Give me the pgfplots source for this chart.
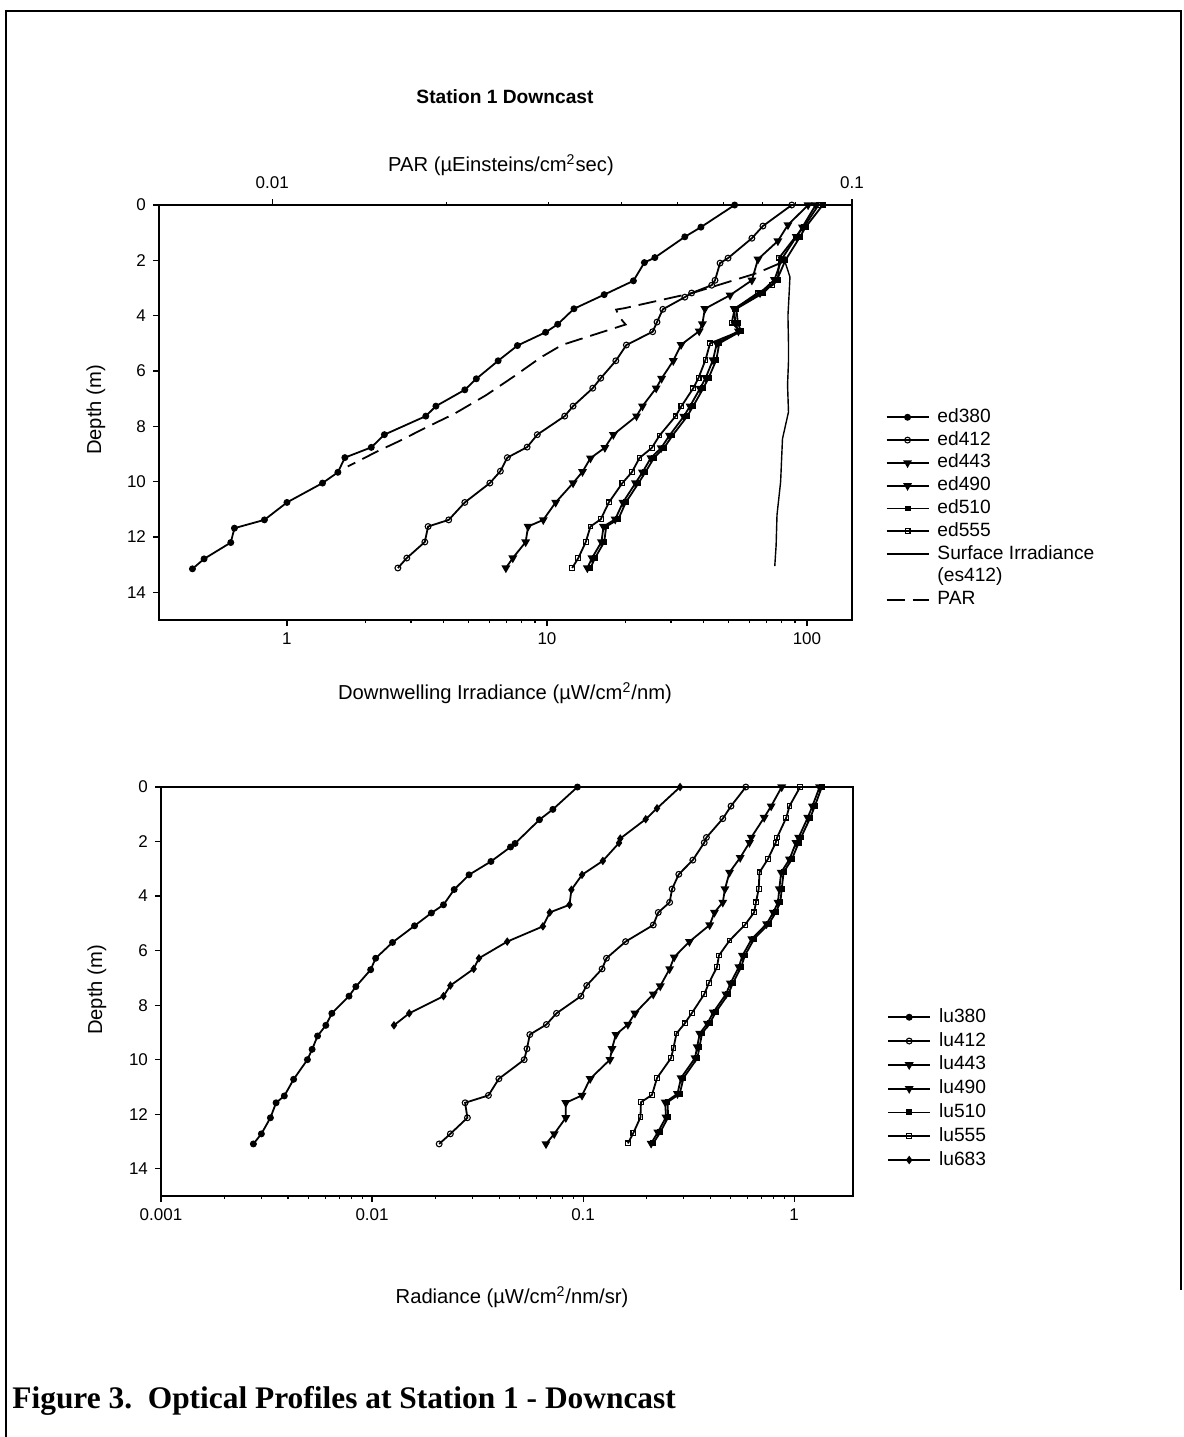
\documentclass[border=0pt]{standalone}
\usepackage{pgfplots}
\pgfplotsset{compat=1.18}
\usepackage{fontspec}
\setmainfont{Liberation Sans}
\newfontfamily\capfont{Liberation Serif}

\newcommand{\tickfont}{\fontsize{8.5}{10}\selectfont}
\newcommand{\legfont}{\fontsize{9.6}{11}\selectfont}
\newcommand{\labfont}{\fontsize{10.1}{12}\selectfont}

\pgfplotsset{
  myprof/.style={black, line width=0.9pt, mark size=1.45pt, mark options={solid, line width=0.55pt}},
  myfc/.style={myprof, mark=*},
  myoc/.style={myprof, mark=o, mark options={solid, fill=white, line width=0.55pt}},
  mytd/.style={myprof, mark=triangle*, mark size=1.7pt, mark options={solid, rotate=180}},
  myfsq/.style={myprof, mark=square*, mark size=1.2pt},
  myosq/.style={myprof, mark=square, mark size=1.2pt, mark options={solid, fill=white, line width=0.55pt}},
  myfdi/.style={myprof, mark=diamond*, mark size=1.7pt},
  mydash/.style={black, line width=0.9pt, dash pattern=on 9pt off 4pt},
}

\begin{document}
\begin{tikzpicture}
\useasboundingbox (0,0) rectangle (592pt,-718.5pt);
% outer frame
\draw[line width=1pt] (3pt,-718.5pt) -- (3pt,-5.5pt) -- (590.5pt,-5.5pt) -- (590.5pt,-645pt);

% ---------------- top chart ----------------
\begin{axis}[scale only axis, at={(79.5pt,-310pt)}, anchor=south west,
  width=346.5pt, height=207.5pt,
  xmode=log, y dir=reverse,
  ymin=0, ymax=15, ytick={0,2,...,14},
  xmin=0.322, xmax=149,
  xtick={1,10,100}, xticklabels={1,10,100},
  tick align=outside, axis line style={line width=1pt},
  major tick length=3pt, minor tick length=1.6pt,
  every tick/.style={black, line width=0.6pt},
  tick label style={font=\tickfont},
  /pgf/number format/assume math mode=true,
  xtick pos=bottom, ytick pos=left,
  legend cell align=left,
  legend image code/.code={\draw[mark repeat=2,mark phase=2,#1] plot coordinates {(0pt,0pt) (10.5pt,0pt) (21pt,0pt)};},
  legend style={draw=none, fill=none, font=\legfont, inner sep=0pt, row sep=0.4pt, column sep=3pt,
      nodes={inner sep=1pt, text height=7pt, text depth=2pt},
      at={(1.048,0.516)}, anchor=north west},
]
\addplot[myfc] coordinates {(52.7,0) (39.1,0.8) (33.9,1.15) (26.0,1.9) (23.7,2.08) (21.5,2.74) (16.6,3.24) (12.7,3.75) (11.0,4.31) (9.88,4.6) (7.70,5.08) (6.49,5.63) (5.35,6.28) (4.83,6.68) (3.74,7.27) (3.42,7.63) (2.37,8.3) (2.11,8.76) (1.67,9.13) (1.57,9.66) (1.37,10.05) (1.0,10.75) (0.819,11.38) (0.628,11.68) (0.608,12.2) (0.480,12.79) (0.433,13.15)};
\addlegendentry{ed380}
\addplot[myoc] coordinates {(87.4,0) (67.7,0.76) (61.4,1.2) (49.7,1.92) (46.3,2.1) (44.3,2.72) (43.0,2.9) (36.0,3.18) (33.9,3.33) (27.9,3.77) (26.5,4.23) (25.5,4.58) (20.2,5.06) (18.4,5.63) (16.1,6.26) (15.0,6.62) (12.6,7.27) (11.7,7.63) (9.18,8.3) (8.39,8.75) (7.04,9.13) (6.62,9.62) (6.03,10.05) (4.83,10.75) (4.19,11.38) (3.49,11.62) (3.39,12.18) (2.89,12.76) (2.67,13.12)};
\addlegendentry{ed412}
\addplot[mytd] coordinates {(101,0) (84.5,0.72) (77.3,1.3) (64.8,1.96) (61.4,2.72) (50.6,3.26) (40.5,3.75) (39.6,4.3) (38.5,4.56) (32.8,5.05) (30.6,5.63) (27.6,6.27) (26.3,6.62) (23.3,7.27) (22.1,7.63) (18.0,8.3) (16.7,8.77) (14.7,9.15) (13.7,9.64) (12.6,10.05) (10.8,10.75) (9.68,11.38) (8.46,11.62) (8.28,12.18) (7.39,12.76) (6.95,13.12)};
\addlegendentry{ed443}
\addplot[mytd] coordinates {(108,0) (96,0.8) (91,1.15) (80,1.95) (75,2.7) (66,3.18) (52.5,3.75) (53,4.25) (54.5,4.56) (45,5.0) (43.5,5.6) (40.8,6.24) (38.8,6.63) (35.5,7.27) (33.6,7.64) (29.6,8.33) (27.5,8.78) (25.1,9.14) (23.3,9.66) (21.9,10.05) (19.6,10.75) (18.3,11.36) (16.5,11.62) (16.2,12.18) (14.9,12.76) (14.3,13.12)};
\addlegendentry{ed490}
\addplot[myfsq] coordinates {(115,0) (98.8,0.8) (94.0,1.15) (82.6,2.0) (76.7,2.7) (67.9,3.18) (53.5,3.75) (54.2,4.25) (55.7,4.56) (46.0,5.0) (44.8,5.6) (41.9,6.24) (39.9,6.63) (36.5,7.27) (34.6,7.64) (30.4,8.33) (28.2,8.78) (25.8,9.14) (23.9,9.66) (22.5,10.05) (20.1,10.75) (18.8,11.36) (16.9,11.62) (16.6,12.18) (15.3,12.76) (14.7,13.12)};
\addlegendentry{ed510}
\addplot[myosq] coordinates {(110.8,0) (97.2,0.8) (90.3,1.15) (78.3,1.9) (77.3,2.7) (73.6,2.9) (64.6,3.18) (52.7,3.75) (51.4,4.25) (55.3,4.56) (42.4,5.0) (40.7,5.6) (38.3,6.24) (36.5,6.63) (32.9,7.27) (31.2,7.64) (27.1,8.33) (25.3,8.78) (22.7,9.14) (21.2,9.66) (19.5,10.05) (17.3,10.75) (16.1,11.36) (14.7,11.62) (14.1,12.18) (13.2,12.76) (12.5,13.12)};
\addlegendentry{ed555}
\addplot[black, line width=0.7pt] coordinates {(82,2.0) (86,2.6) (85.5,3.1) (84.5,4.0) (84.9,5.0) (84.9,5.66) (84.2,6.5) (84.9,7.48) (80.5,8.45) (79.2,10.0) (76.7,11.2) (76.1,12.3) (75.2,13.05)};
\addlegendentry{Surface Irradiance}
\addlegendimage{empty legend}
\addlegendentry{(es412)}
\addlegendimage{mydash}
\addlegendentry{PAR}
\end{axis}

% PAR axis (top)
\begin{axis}[scale only axis, at={(79.5pt,-310pt)}, anchor=south west,
  width=346.5pt, height=207.5pt,
  xmode=log, xmin=0.00638, xmax=0.1, y dir=reverse, ymin=0, ymax=15,
  axis x line*=top, axis y line=none,
  tick align=outside, axis line style={line width=1pt},
  major tick length=3pt, minor tick length=1.6pt,
  every tick/.style={black, line width=0.6pt},
  tick label style={font=\tickfont},
  xticklabel style={yshift=1.5pt},
  /pgf/number format/assume math mode=true,
  xtick={0.01,0.1}, xticklabels={0.01,0.1},
]
\addplot[mydash] coordinates {(0.0752,2.1) (0.0686,2.46) (0.0531,3.18) (0.0405,3.73) (0.0392,3.78) (0.0397,4.05) (0.0407,4.32) (0.0316,5.06) (0.0291,5.5) (0.0261,6.2) (0.0234,6.87) (0.0206,7.55) (0.0186,8.0) (0.0165,8.55) (0.0152,8.9) (0.0135,9.45)};
\end{axis}

% ---------------- bottom chart ----------------
\begin{axis}[scale only axis, at={(80.5pt,-598pt)}, anchor=south west,
  width=346pt, height=204.5pt,
  xmode=log, y dir=reverse,
  ymin=0, ymax=15, ytick={0,2,...,14},
  xmin=0.001, xmax=1.9,
  xtick={0.001,0.01,0.1,1}, xticklabels={0.001,0.01,0.1,1},
  tick align=outside, axis line style={line width=1pt},
  major tick length=3pt, minor tick length=1.6pt,
  every tick/.style={black, line width=0.6pt},
  tick label style={font=\tickfont},
  /pgf/number format/assume math mode=true,
  xtick pos=bottom, ytick pos=left,
  legend cell align=left,
  legend image code/.code={\draw[mark repeat=2,mark phase=2,#1] plot coordinates {(0pt,0pt) (10.5pt,0pt) (21pt,0pt)};},
  legend style={draw=none, fill=none, font=\legfont, inner sep=0pt, row sep=0.9pt, column sep=3pt,
      nodes={inner sep=1pt, text height=7pt, text depth=2pt},
      at={(1.049,0.465)}, anchor=north west},
]
\addplot[myfc] coordinates {(0.0940,0) (0.0719,0.82) (0.0621,1.2) (0.0476,2.07) (0.0453,2.2) (0.0366,2.73) (0.0288,3.22) (0.0245,3.76) (0.0218,4.32) (0.0191,4.62) (0.0159,5.09) (0.0125,5.7) (0.0104,6.28) (0.00985,6.7) (0.00838,7.32) (0.00778,7.67) (0.00645,8.3) (0.00604,8.74) (0.00552,9.13) (0.00520,9.62) (0.00494,10.0) (0.00425,10.72) (0.00384,11.33) (0.00351,11.58) (0.00330,12.13) (0.00299,12.72) (0.00274,13.09)};
\addlegendentry{lu380}
\addplot[myoc] coordinates {(0.590,0) (0.502,0.7) (0.459,1.16) (0.384,1.85) (0.375,2.04) (0.331,2.68) (0.284,3.2) (0.264,3.74) (0.257,4.23) (0.227,4.6) (0.215,5.06) (0.159,5.67) (0.129,6.28) (0.123,6.67) (0.104,7.28) (0.0977,7.67) (0.0748,8.3) (0.0670,8.71) (0.0559,9.08) (0.0542,9.6) (0.0526,10.0) (0.0399,10.7) (0.0356,11.31) (0.0276,11.58) (0.0283,12.13) (0.0235,12.72) (0.0208,13.09)};
\addlegendentry{lu412}
\addplot[mytd] coordinates {(0.873,0) (0.778,0.7) (0.721,1.12) (0.626,1.85) (0.614,2.04) (0.555,2.59) (0.494,3.13) (0.470,3.74) (0.459,4.23) (0.419,4.6) (0.398,5.06) (0.319,5.67) (0.270,6.24) (0.257,6.67) (0.232,7.3) (0.215,7.6) (0.176,8.3) (0.163,8.71) (0.143,9.08) (0.137,9.6) (0.134,10.0) (0.108,10.7) (0.0988,11.31) (0.0828,11.58) (0.0828,12.13) (0.0730,12.72) (0.0667,13.09)};
\addlegendentry{lu443}
\addplot[mytd] coordinates {(1.32,0) (1.22,0.7) (1.16,1.12) (1.05,1.85) (1.02,2.04) (0.950,2.65) (0.868,3.13) (0.850,3.74) (0.838,4.23) (0.797,4.6) (0.740,5.02) (0.630,5.57) (0.569,6.18) (0.547,6.6) (0.499,7.2) (0.475,7.6) (0.414,8.26) (0.388,8.67) (0.357,9.04) (0.347,9.53) (0.339,9.94) (0.291,10.67) (0.280,11.25) (0.245,11.56) (0.247,12.11) (0.226,12.66) (0.210,13.07)};
\addlegendentry{lu490}
\addplot[myfsq] coordinates {(1.352,0) (1.253,0.7) (1.193,1.12) (1.078,1.85) (1.051,2.04) (0.975,2.65) (0.891,3.13) (0.873,3.74) (0.860,4.23) (0.818,4.6) (0.759,5.02) (0.646,5.57) (0.584,6.18) (0.561,6.6) (0.512,7.2) (0.487,7.6) (0.425,8.26) (0.398,8.67) (0.366,9.04) (0.356,9.53) (0.348,9.94) (0.299,10.67) (0.287,11.25) (0.251,11.56) (0.253,12.11) (0.232,12.66) (0.215,13.07)};
\addlegendentry{lu510}
\addplot[myosq] coordinates {(1.067,0) (0.950,0.7) (0.918,1.12) (0.830,1.85) (0.818,2.04) (0.750,2.65) (0.685,3.13) (0.679,3.74) (0.659,4.23) (0.646,4.6) (0.584,5.06) (0.494,5.63) (0.440,6.18) (0.431,6.6) (0.394,7.2) (0.375,7.6) (0.327,8.3) (0.303,8.67) (0.277,9.04) (0.268,9.57) (0.261,9.94) (0.224,10.67) (0.212,11.29) (0.188,11.56) (0.187,12.11) (0.173,12.69) (0.163,13.07)};
\addlegendentry{lu555}
\addplot[myfdi] coordinates {(0.288,0) (0.224,0.78) (0.198,1.18) (0.150,1.89) (0.148,2.05) (0.124,2.71) (0.0988,3.22) (0.0880,3.77) (0.0862,4.32) (0.0695,4.6) (0.0645,5.11) (0.0437,5.67) (0.0321,6.28) (0.0303,6.67) (0.0235,7.28) (0.0218,7.67) (0.0150,8.3) (0.0127,8.74)};
\addlegendentry{lu683}
\end{axis}

% ---------------- texts ----------------
\node[font=\fontsize{9.6}{11}\selectfont\bfseries] at (252.5pt,-48.5pt) {Station 1 Downcast};
\node[font=\labfont] at (250.5pt,-82.5pt) {PAR (µEinsteins/cm\textsuperscript{2}sec)};
\node[font=\labfont] at (252.5pt,-346.5pt) {Downwelling Irradiance (µW/cm\textsuperscript{2}/nm)};
\node[font=\labfont, rotate=90] at (48pt,-205pt) {Depth (m)};
\node[font=\labfont] at (256pt,-648.5pt) {Radiance (µW/cm\textsuperscript{2}/nm/sr)};
\node[font=\labfont, rotate=90] at (48.5pt,-495pt) {Depth (m)};
\node[font=\fontsize{15.7}{18}\selectfont\capfont\bfseries, anchor=west, inner sep=0pt] at (6pt,-700.5pt) {Figure 3.\ \ Optical Profiles at Station 1 - Downcast};
\end{tikzpicture}
\end{document}
